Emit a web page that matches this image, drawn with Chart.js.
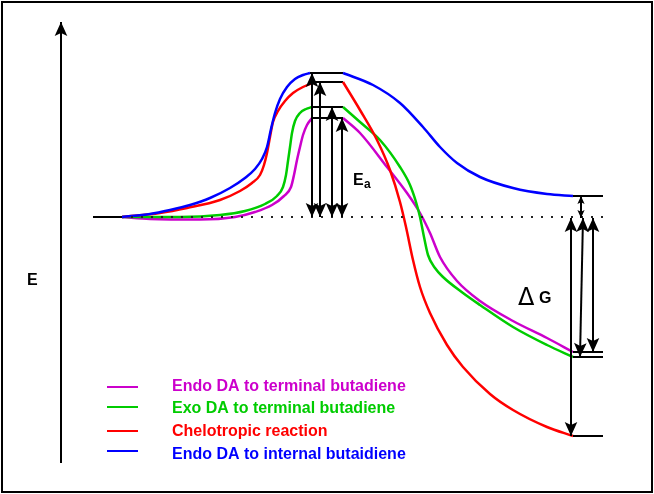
<!DOCTYPE html>
<html>
<head>
<meta charset="utf-8">
<script src="https://cdn.jsdelivr.net/npm/chart.js@4.4.1/dist/chart.umd.min.js"></script>
<style>
  html, body { margin: 0; padding: 0; background: #fff; }
  #wrap { width: 654px; height: 494px; }
</style>
</head>
<body>
<div id="wrap"><canvas id="energyChart"></canvas></div>
<script>
// reaction coordinate (x) and energy relative to reactants (E)
const endoTermRiseX = [122, 150, 200, 235, 255, 272, 284, 291, 294, 297, 300, 303, 307, 312];
const endoTermRiseE = [0, -2, -2.5, 0, 5, 12, 21, 30, 42, 57, 70, 82, 92, 99];
const endoTermFallX = [343, 360, 387, 407, 420, 430, 440, 457, 480, 513, 547, 573];
const endoTermFallE = [99, 84, 50, 24, 4, -16, -40, -64, -84, -104, -121, -135];

const exoTermRiseX = [122, 180, 220, 245, 265, 277, 283, 286, 288, 290, 292, 295, 300, 306, 312];
const exoTermRiseE = [0, 0, 2, 6, 13, 21, 30, 42, 56, 70, 84, 96, 104, 108, 110];
const exoTermFallX = [343, 360, 380, 400, 410, 416, 420, 424, 428, 435, 443, 463, 480, 513, 547, 573];
const exoTermFallE = [110, 95, 77, 50, 32, 15, 0, -20, -38, -51, -60, -76, -88, -110, -128, -140];

const cheloRiseX = [122, 160, 187, 220, 240, 252, 260, 264, 267, 270, 273, 278, 285, 293, 303, 315];
const cheloRiseE = [0, 4, 9, 17, 26, 34, 42, 52, 64, 80, 95, 106, 116, 124, 130, 135];
const cheloFallX = [343, 360, 377, 390, 400, 406, 413, 420, 430, 447, 463, 490, 513, 547, 573];
const cheloFallE = [135, 107, 77, 47, 15, -10, -43, -70, -96, -128, -150, -177, -193, -210, -219];

const endoIntRiseX = [122, 150, 170, 190, 210, 230, 245, 255, 262, 267, 271, 275, 280, 287, 295, 303, 310];
const endoIntRiseE = [0, 3, 7, 12, 19, 29, 39, 48, 58, 70, 88, 104, 118, 130, 138, 142, 144];
const endoIntFallX = [343, 373, 400, 423, 440, 457, 480, 513, 547, 573];
const endoIntFallE = [144, 132, 114, 90, 70, 54, 40, 29, 23, 21];

const seriesLabels = ['Endo DA to terminal butadiene', 'Exo DA to terminal butadiene',
                      'Chelotropic reaction', 'Endo DA to internal butaidiene'];
const seriesColors = ['#cc00cc', '#00cc00', '#ff0000', '#0000ff'];

// transition-state levels, activation arrows and reaction energy arrows
const tsEnergy = [99, 110, 135, 144];
const eaArrowX = [342, 332, 320, 312];
const dgArrowX = [593, 582, 571, 581];
const productEnergy = [-135, -140, -219, 21];

const reactantLineX = [93, 122];
const productLineX = [573, 603];
const dottedX = [131, 603];

function pts(xs, es) {
  return xs.map((x, i) => ({ x: x, y: es[i] }));
}

const riseData = [pts(endoTermRiseX, endoTermRiseE), pts(exoTermRiseX, exoTermRiseE),
                  pts(cheloRiseX, cheloRiseE), pts(endoIntRiseX, endoIntRiseE)];
const fallData = [pts(endoTermFallX, endoTermFallE), pts(exoTermFallX, exoTermFallE),
                  pts(cheloFallX, cheloFallE), pts(endoIntFallX, endoIntFallE)];

const datasets = [];
// black levels first
datasets.push({ data: pts(reactantLineX, [0, 0]), borderColor: '#000', borderWidth: 2 });
datasets.push({ data: pts(dottedX, [0, 0]), borderColor: '#222', borderWidth: 2, borderDash: [2, 8] });
productEnergy.forEach(e => {
  datasets.push({ data: pts(productLineX, [e, e]), borderColor: '#000', borderWidth: 2 });
});
// curves, blue first so magenta ends on top
[3, 2, 1, 0].forEach(i => {
  const rise = riseData[i];
  datasets.push({
    label: seriesLabels[i],
    data: rise,
    borderColor: seriesColors[i],
    borderWidth: 2.5,
    cubicInterpolationMode: 'monotone'
  });
  datasets.push({
    data: fallData[i],
    borderColor: seriesColors[i],
    borderWidth: 2.5,
    cubicInterpolationMode: 'monotone'
  });
  // transition state plateau
  datasets.push({
    data: pts([rise[rise.length - 1].x, fallData[i][0].x], [tsEnergy[i], tsEnergy[i]]),
    borderColor: '#000',
    borderWidth: 2
  });
});

function arrowHead(ctx, x, y, ang, size) {
  const L = size, W = size * 0.45;
  ctx.save();
  ctx.translate(x, y);
  ctx.rotate(ang);
  ctx.beginPath();
  ctx.moveTo(0, 0);
  ctx.lineTo(-L, -W);
  ctx.lineTo(-L * 0.78, 0);
  ctx.lineTo(-L, W);
  ctx.closePath();
  ctx.fill();
  ctx.restore();
}

function arrow(ctx, x1, y1, x2, y2, both, size) {
  const ang = Math.atan2(y2 - y1, x2 - x1);
  ctx.beginPath();
  ctx.moveTo(x1, y1);
  ctx.lineTo(x2, y2);
  ctx.stroke();
  arrowHead(ctx, x2, y2, ang, size);
  if (both) arrowHead(ctx, x1, y1, ang + Math.PI, size);
}

const annotations = {
  id: 'annotations',
  afterDatasetsDraw(chart) {
    const ctx = chart.ctx;
    const xs = chart.scales.x, ys = chart.scales.y;
    ctx.save();
    ctx.strokeStyle = '#000';
    ctx.fillStyle = '#000';
    ctx.lineWidth = 2;

    // frame
    ctx.strokeRect(2, 2, chart.width - 4, chart.height - 4);

    // energy axis
    arrow(ctx, 61, 463, 61, 22, false, 14);

    // activation energies
    eaArrowX.forEach((x, i) => {
      arrow(ctx, xs.getPixelForValue(x), ys.getPixelForValue(tsEnergy[i]),
            xs.getPixelForValue(x), ys.getPixelForValue(0), true, 14);
    });

    // reaction energies
    dgArrowX.forEach((x, i) => {
      const short = Math.abs(productEnergy[i]) < 40;
      const topX = i === 1 ? x + 1 : x;
      const botX = i === 1 ? x - 2 : x;
      arrow(ctx, xs.getPixelForValue(topX), ys.getPixelForValue(0) + 1,
            xs.getPixelForValue(botX), ys.getPixelForValue(productEnergy[i]), true, short ? 8 : 14);
    });

    // labels
    ctx.textBaseline = 'alphabetic';
    ctx.font = 'bold 16px "Liberation Sans", Arial, sans-serif';
    ctx.fillText('E', 27, 285);
    ctx.fillText('E', 353, 185);
    ctx.font = 'bold 12px "Liberation Sans", Arial, sans-serif';
    ctx.fillText('a', 364, 188);
    ctx.font = '24px "DejaVu Sans", sans-serif';
    ctx.fillText('Δ', 518, 305);
    ctx.font = 'bold 16px "Liberation Sans", Arial, sans-serif';
    ctx.fillText('G', 539, 303);

    // legend
    const lineY = [387, 407, 431, 451];
    const textY = [386, 408, 431, 454];
    ctx.font = 'bold 16px "Liberation Sans", Arial, sans-serif';
    ctx.textBaseline = 'middle';
    seriesLabels.forEach((lab, i) => {
      ctx.strokeStyle = seriesColors[i];
      ctx.beginPath();
      ctx.moveTo(107, lineY[i]);
      ctx.lineTo(138, lineY[i]);
      ctx.stroke();
      ctx.fillStyle = seriesColors[i];
      ctx.fillText(lab, 172, textY[i] + 1);
    });
    ctx.restore();
  }
};

const ctx = document.getElementById('energyChart').getContext('2d');
const energyChart = new Chart(ctx, {
  type: 'scatter',
  data: { datasets: datasets },
  options: {
    responsive: true,
    maintainAspectRatio: false,
    animation: false,
    showLine: true,
    elements: { point: { radius: 0, hoverRadius: 0 } },
    layout: { padding: 0 },
    scales: {
      x: { type: 'linear', display: false, min: 0, max: 654 },
      y: { type: 'linear', display: false, min: -277, max: 217 }
    },
    plugins: {
      legend: { display: false },
      tooltip: { enabled: false }
    }
  },
  plugins: [annotations]
});
</script>
</body>
</html>
